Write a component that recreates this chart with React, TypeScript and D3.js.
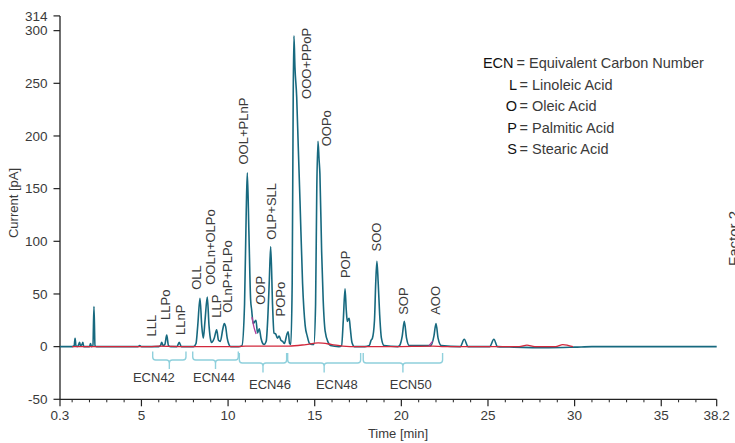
import * as d3 from 'd3'

// chromatogram traces, [time (min), current (pA)]
const fidTrace: [number, number][] = [
  [0.3, 0], [1.0, 0], [1.12, 1], [1.17, 8], [1.22, 1], [1.3, 0], [1.38, 2], [1.43, 4], [1.48, 1],
  [1.57, 2], [1.62, 4], [1.67, 0], [2.0, 0], [2.06, 3], [2.12, 0], [2.2, 1], [2.26, 38], [2.32, 1],
  [2.4, 0], [3.0, 0], [4.8, 0], [4.9, 1], [5.0, 0], [5.6, 0], [6.0, 0], [6.1, 1], [6.17, 4], [6.25, 1],
  [6.35, 2], [6.46, 11], [6.56, 1], [6.7, 0], [7.05, 0], [7.18, 4], [7.3, 0], [8.0, 0], [8.15, 3],
  [8.25, 20], [8.38, 46], [8.48, 20], [8.57, 8], [8.67, 25], [8.8, 47], [8.9, 20], [9.0, 6], [9.05, 4],
  [9.2, 8], [9.34, 16], [9.45, 6], [9.55, 5], [9.7, 17], [9.78, 22], [9.86, 19], [9.95, 8], [10.05, 2],
  [10.15, 0], [10.6, 0], [10.8, 1], [10.95, 40], [11.05, 130], [11.11, 165], [11.2, 110], [11.3, 45],
  [11.36, 35], [11.45, 22], [11.55, 24], [11.61, 25], [11.7, 13], [11.8, 17], [11.9, 8], [12.0, 3],
  [12.08, 2], [12.2, 5], [12.3, 30], [12.38, 63], [12.46, 95], [12.57, 38], [12.65, 13], [12.75, 12],
  [12.85, 8], [12.95, 10], [13.05, 6], [13.15, 5], [13.25, 3], [13.4, 12], [13.47, 14], [13.55, 3],
  [13.62, 2], [13.7, 60], [13.76, 240], [13.8, 295], [13.86, 265], [13.96, 237], [14.05, 190],
  [14.15, 139], [14.3, 60], [14.45, 20], [14.57, 10], [14.7, 3], [14.85, 2], [14.95, 2], [15.05, 40],
  [15.12, 150], [15.19, 195], [15.25, 178], [15.3, 164], [15.4, 90], [15.49, 44], [15.6, 15],
  [15.78, 4], [15.9, 1], [16.4, 0], [16.55, 1], [16.65, 25], [16.75, 55], [16.82, 35], [16.88, 24],
  [16.94, 26], [16.99, 27], [17.05, 18], [17.15, 4], [17.3, 0], [17.9, 0], [18.15, 1], [18.25, 6],
  [18.33, 8], [18.45, 25], [18.52, 60], [18.59, 81], [18.66, 62], [18.75, 30], [18.85, 8], [19.0, 1],
  [19.8, 0], [19.9, 1], [20.05, 10], [20.17, 24], [20.3, 8], [20.45, 1], [21.7, 1], [21.88, 10],
  [22.0, 22], [22.12, 8], [22.3, 1], [23.4, 0], [23.63, 7], [23.85, 0], [25.1, 0], [25.34, 7],
  [25.55, 0], [26.5, -0.5], [28.5, -1], [30.0, -0.5], [31.0, 0], [38.2, 0],
]

const blankTrace: [number, number][] = [
  [1.0, 0], [5.5, 0], [6.0, 0.5], [7.5, 0], [10.5, 0], [11.0, 0.5], [13.5, 0.5], [14.5, 2],
  [15.2, 3.5], [16.0, 2], [16.6, 0.5], [17.5, 0], [19.5, 0], [21.8, 0.5], [22.5, 0], [26.8, 0],
  [27.25, 1.5], [27.7, 0], [28.9, 0], [29.32, 2], [29.9, 0],
]

const overlapBits: [number, number][][] = [
  [[11.38, 28], [11.5, 18], [11.62, 12]],
  [[21.6, 1], [21.8, 5]],
]

// peak names with label position [time, current]
const peakNames = ['LLL', 'LLPo', 'LLnP', 'OLL', 'OOLn+OLPo', 'LLP', 'OLnP+PLPo', 'OOL+PLnP', 'OOP',
  'OLP+SLL', 'POPo', 'OOO+PPoP', 'OOPo', 'POP', 'SOO', 'SOP', 'AOO']
const peakLabelTimes = [5.59, 6.36, 7.22, 8.19, 8.96, 9.34, 9.98, 10.88, 11.84, 12.52, 13.04, 14.5,
  15.65, 16.8, 18.57, 20.11, 21.94]
const peakLabelValues = [9.6, 25.4, 11.1, 53.9, 58.7, 27.4, 32.1, 172.9, 39.7, 101.5, 28.6, 235.2,
  190.2, 65.1, 90.4, 30.2, 30.2]

// ECN groups: [start, end] in min, label time
const ecnNames = ['ECN42', 'ECN44', 'ECN46', 'ECN48', 'ECN50']
const ecnRanges = [[5.65, 7.57], [7.96, 10.59], [10.65, 13.38], [13.44, 17.65], [17.8, 22.38]]
const ecnLabelTimes = [5.72, 9.19, 12.42, 16.28, 20.54]

const legendKeys = ['ECN', 'L', 'O', 'P', 'S']
const legendText = ['Equivalent Carbon Number', 'Linoleic Acid', 'Oleic Acid', 'Palmitic Acid', 'Stearic Acid']

const xTicks = [0.3, 5, 10, 15, 20, 25, 30, 35, 38.2]
const yTicks = [314, 300, 250, 200, 150, 100, 50, 0, -50]

const FONT = '"Liberation Sans", Arial, sans-serif'
const TEXT = '#3a3a3a'

const App = () => {
  const x = d3.scaleLinear().domain([0.3, 38.2]).range([60, 716.7])
  const y = d3.scaleLinear().domain([-50, 314]).range([399.3, 15.9])

  const line = d3.line<[number, number]>()
    .x(d => x(d[0]))
    .y(d => y(d[1]))
    .curve(d3.curveMonotoneX)

  const minorTicks = d3.range(1, 38).filter(t => t % 5 !== 0)

  const bracket = (i: number) => {
    const row2 = i >= 2
    const yt = row2 ? 353 : 351.5
    const yh = row2 ? 363 : 360
    const ytip = row2 ? 372.5 : 369
    const xl = x(ecnRanges[i][0])
    const xr = x(ecnRanges[i][1])
    const xc = (xl + xr) / 2
    const r = 3
    return `M${xl},${yt} L${xl},${yh - r} Q${xl},${yh} ${xl + r},${yh} L${xc - r},${yh} Q${xc},${yh} ${xc},${yh + r} L${xc},${ytip}`
      + ` M${xc},${yh + r} Q${xc},${yh} ${xc + r},${yh} L${xr - r},${yh} Q${xr},${yh} ${xr},${yh - r} L${xr},${yt}`
  }

  return (
    <div style={{ position: 'fixed', left: 0, top: 0 }}>
      <svg width={735} height={443} style={{ display: 'block', background: '#fff' }} fontFamily={FONT}>
        {/* y axis */}
        <line x1={60} x2={60} y1={y(314)} y2={y(-50)} stroke="#222" strokeWidth={1.3} />
        {yTicks.map(t => (
          <g key={t} transform={`translate(0,${y(t)})`}>
            <line x1={53.5} x2={60} stroke="#222" strokeWidth={1.2} />
            <text x={47.5} dy="0.35em" textAnchor="end" fontSize={13.5} fill={TEXT}>{t}</text>
          </g>
        ))}
        <text transform={`translate(18,203) rotate(-90)`} textAnchor="middle" fontSize={13} fill={TEXT}>Current [pA]</text>

        {/* x axis */}
        <line x1={60} x2={716.7} y1={y(-50)} y2={y(-50)} stroke="#222" strokeWidth={1.3} />
        {minorTicks.map(t => (
          <line key={t} x1={x(t)} x2={x(t)} y1={y(-50)} y2={y(-50) + 3} stroke="#222" strokeWidth={1} />
        ))}
        {xTicks.map(t => (
          <g key={t} transform={`translate(${x(t)},${y(-50)})`}>
            <line y1={0} y2={7} stroke="#222" strokeWidth={1.2} />
            <text y={20.5} textAnchor="middle" fontSize={13.5} fill={TEXT}>{t}</text>
          </g>
        ))}
        <text x={398} y={438} textAnchor="middle" fontSize={13} fill={TEXT}>Time [min]</text>

        {/* traces */}
        <path d={line(fidTrace) ?? ''} fill="none" stroke="#17697f" strokeWidth={1.6} strokeLinejoin="round" />
        <path d={line(blankTrace) ?? ''} fill="none" stroke="#d2283c" strokeWidth={1.3} />
        {overlapBits.map((seg, i) => (
          <path key={i} d={line(seg) ?? ''} fill="none" stroke="#b13d9a" strokeWidth={1.3} />
        ))}

        {/* peak labels */}
        {peakNames.map((name, i) => (
          <text key={name} transform={`translate(${x(peakLabelTimes[i]) + 4.6},${y(peakLabelValues[i])}) rotate(-90)`}
            fontSize={13} fill={TEXT}>{name}</text>
        ))}

        {/* ECN brackets */}
        {ecnNames.map((name, i) => (
          <g key={name}>
            <path d={bracket(i)} fill="none" stroke="#8fd0dc" strokeWidth={1.4} />
            <text x={x(ecnLabelTimes[i])} y={i >= 2 ? 388.5 : 381.5} textAnchor="middle" fontSize={13} fill={TEXT}>{name}</text>
          </g>
        ))}

        {/* legend */}
        {legendKeys.map((k, i) => (
          <g key={k} transform={`translate(0,${68.3 + i * 21.5})`}>
            <text x={i === 0 ? 513.5 : 517} textAnchor="end" fontSize={14.5} fill="#111">{k}</text>
            <text x={i === 0 ? 516.5 : 519.5} fontSize={14.5} fill={TEXT}>= {legendText[i]}</text>
          </g>
        ))}

        <text transform="translate(739,266) rotate(-90)" fontSize={15} fill={TEXT}>Factor 2</text>
      </svg>
    </div>
  )
}

export default App
